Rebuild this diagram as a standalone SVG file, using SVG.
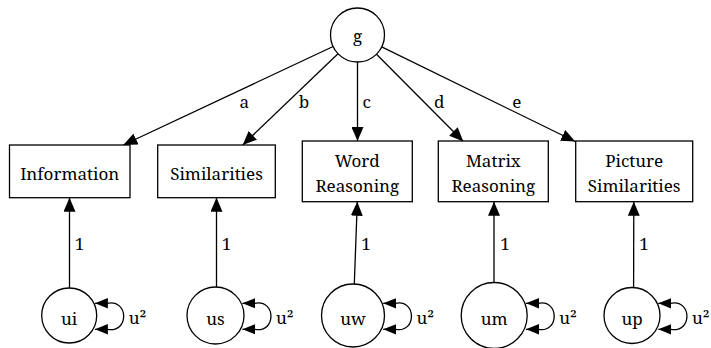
<svg xmlns="http://www.w3.org/2000/svg" width="711" height="348" viewBox="0 0 711 348">
<style>
  .n { fill: #fff; stroke: #000; stroke-width: 1.3; }
  .e { fill: none; stroke: #000; stroke-width: 1.3; }
  text { font-family: "Noto Serif", "DejaVu Serif", serif; font-size: 17px; fill: #000; }
  .c { text-anchor: middle; }
</style>
<defs>
  <marker id="arr" markerUnits="userSpaceOnUse" markerWidth="14" markerHeight="12" viewBox="0 0 14 12" refX="14" refY="6" orient="auto-start-reverse">
    <path d="M0,0 L14,6 L0,12 Z" fill="#000"/>
  </marker>
  <marker id="arrs" markerUnits="userSpaceOnUse" markerWidth="13" markerHeight="10.4" viewBox="0 0 13 10.4" refX="13" refY="5.2" orient="auto-start-reverse">
    <path d="M0,0 L13,5.2 L0,10.4 Z" fill="#000"/>
  </marker>
</defs>

<g id="edges">
  <path class="e" marker-end="url(#arr)" d="M333.1,46.5 L123.3,145"/>
  <path class="e" marker-end="url(#arr)" d="M338,53.7 L242.7,145"/>
  <path class="e" marker-end="url(#arr)" d="M357.5,62 L357.5,141"/>
  <path class="e" marker-end="url(#arr)" d="M376.5,54.2 L463.3,141.5"/>
  <path class="e" marker-end="url(#arr)" d="M381.7,46.9 L575.2,141.5"/>
  <text x="244.3" y="108" class="c">a</text>
  <text x="304" y="108" class="c">b</text>
  <text x="366.7" y="108" class="c">c</text>
  <text x="439.3" y="108" class="c">d</text>
  <text x="516.7" y="108" class="c">e</text>

  <path class="e" marker-end="url(#arr)" d="M69.5,288 L69.5,197.7"/>
  <path class="e" marker-end="url(#arr)" d="M216.5,287 L216.5,197.7"/>
  <path class="e" marker-end="url(#arr)" d="M354.3,284 L357.3,201.7"/>
  <path class="e" marker-end="url(#arr)" d="M494,282.5 L494,201.7"/>
  <path class="e" marker-end="url(#arr)" d="M633.6,287.5 L633.8,201.7"/>
  <text x="79.5" y="250" class="c">1</text>
  <text x="226.5" y="250" class="c">1</text>
  <text x="366" y="250" class="c">1</text>
  <text x="505" y="250" class="c">1</text>
  <text x="644" y="250" class="c">1</text>

  <path class="e" marker-start="url(#arrs)" marker-end="url(#arrs)" d="M94.9,303.3 L107.2,303.3 C129.2,299 129.2,333.5 107.2,329.3 L94.9,329.3"/>
  <path class="e" marker-start="url(#arrs)" marker-end="url(#arrs)" d="M242.4,303.3 L254.7,303.3 C276.4,299 276.4,333.5 254.7,329.3 L242.4,329.3"/>
  <path class="e" marker-start="url(#arrs)" marker-end="url(#arrs)" d="M383.2,303.3 L395.5,303.3 C416.8,299 416.8,333.5 395.5,329.3 L383.2,329.3"/>
  <path class="e" marker-start="url(#arrs)" marker-end="url(#arrs)" d="M526,303.3 L538.3,303.3 C559.5,299 559.5,333.5 538.3,329.3 L526,329.3"/>
  <path class="e" marker-start="url(#arrs)" marker-end="url(#arrs)" d="M658.3,303.3 L670.6,303.3 C692.4,299 692.4,333.5 670.6,329.3 L658.3,329.3"/>
  <text x="128.7" y="323.5">u²</text>
  <text x="276" y="323.5">u²</text>
  <text x="416.5" y="323.5">u²</text>
  <text x="559.2" y="323.5">u²</text>
  <text x="692" y="323.5">u²</text>
</g>

<g id="g">
  <circle class="n" cx="357.5" cy="35" r="27"/>
  <text x="357.5" y="42" class="c">g</text>
</g>

<g id="information">
  <rect class="n" x="9.5" y="145" width="120.5" height="52.7"/>
  <text x="69.7" y="180" class="c">Information</text>
</g>
<g id="similarities">
  <rect class="n" x="157.7" y="145" width="117.6" height="52.7"/>
  <text x="216.5" y="180" class="c">Similarities</text>
</g>
<g id="word_reasoning">
  <rect class="n" x="302.3" y="141" width="110" height="60.7"/>
  <text x="357.3" y="166.5" class="c">Word</text>
  <text x="357.3" y="192" class="c">Reasoning</text>
</g>
<g id="matrix_reasoning">
  <rect class="n" x="438.3" y="141" width="110" height="60.7"/>
  <text x="493.3" y="166.5" class="c">Matrix</text>
  <text x="493.3" y="192" class="c">Reasoning</text>
</g>
<g id="picture_similarities">
  <rect class="n" x="575.7" y="141" width="117" height="60.7"/>
  <text x="634.2" y="166.5" class="c">Picture</text>
  <text x="634.2" y="192" class="c">Similarities</text>
</g>

<g id="ui">
  <circle class="n" cx="69.2" cy="315.5" r="27.5"/>
  <text x="69.2" y="325" class="c">ui</text>
</g>
<g id="us">
  <circle class="n" cx="215.5" cy="315.5" r="28.5"/>
  <text x="215.5" y="325" class="c">us</text>
</g>
<g id="uw">
  <circle class="n" cx="353" cy="315.5" r="31.5"/>
  <text x="353" y="325" class="c">uw</text>
</g>
<g id="um">
  <circle class="n" cx="494.2" cy="315.5" r="33"/>
  <text x="494.2" y="325" class="c">um</text>
</g>
<g id="up">
  <circle class="n" cx="632" cy="315.5" r="28"/>
  <text x="632" y="325" class="c">up</text>
</g>
</svg>
